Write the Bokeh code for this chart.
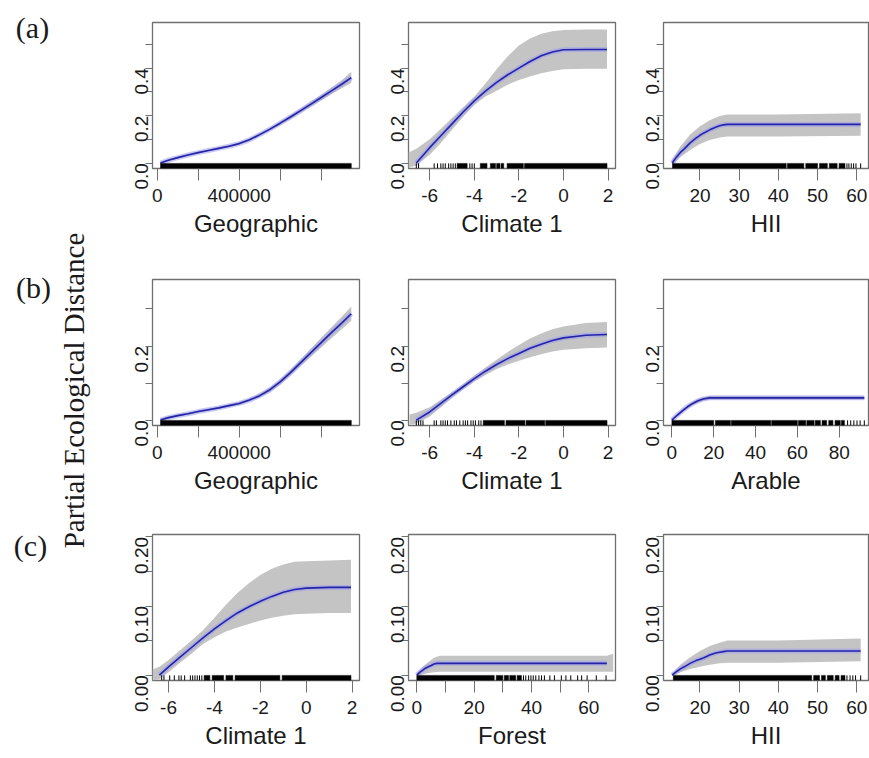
import math
from bokeh.plotting import figure
from bokeh.layouts import row, column
from bokeh.models import Range1d, FixedTicker, PrintfTickFormatter
from bokeh.core.properties import value
from bokeh.embed import file_html
from bokeh.resources import INLINE

# ---------------- data ----------------
# Row (a)
a1_x = [16000, 50000, 100000, 150000, 200000, 250000, 300000, 350000, 400000, 450000, 500000,
        550000, 600000, 650000, 700000, 750000, 800000, 850000, 900000, 947000]
a1_y = [0.000, 0.011, 0.023, 0.034, 0.044, 0.053, 0.062, 0.071, 0.082, 0.098, 0.120,
        0.143, 0.168, 0.194, 0.221, 0.248, 0.276, 0.304, 0.332, 0.360]
a1_hi = [0.004, 0.015, 0.027, 0.038, 0.048, 0.057, 0.066, 0.075, 0.087, 0.103, 0.126,
         0.149, 0.175, 0.202, 0.230, 0.259, 0.288, 0.318, 0.349, 0.385]
a1_lo = [-0.003, 0.007, 0.019, 0.030, 0.040, 0.049, 0.058, 0.067, 0.077, 0.093, 0.114,
         0.137, 0.161, 0.186, 0.212, 0.237, 0.264, 0.290, 0.315, 0.338]
a1_rug_int = [[16000, 947000]]
a1_rug_tick = []

a2_x = [-6.6, -6.0, -5.5, -5.0, -4.5, -4.0, -3.5, -3.0, -2.5, -2.0, -1.5, -1.0, -0.5, 0.0, 1.0, 1.95]
a2_y = [0.000, 0.065, 0.115, 0.165, 0.215, 0.262, 0.303, 0.340, 0.372, 0.400, 0.428, 0.452, 0.468, 0.477, 0.478, 0.478]
a2_bx = [-6.95, -6.6, -6.0, -5.5, -5.0, -4.5, -4.0, -3.5, -3.0, -2.5, -2.0, -1.5, -1.0, -0.5, 0.0, 1.0, 1.95]
a2_hi = [0.045, 0.06, 0.10, 0.145, 0.19, 0.235, 0.28, 0.335, 0.395, 0.45, 0.495, 0.525, 0.545, 0.555, 0.56, 0.563, 0.563]
a2_lo = [-0.02, -0.01, 0.035, 0.085, 0.14, 0.195, 0.245, 0.28, 0.305, 0.33, 0.35, 0.365, 0.378, 0.388, 0.395, 0.397, 0.397]
a2_rug_int = [[-4.77, -4.32], [-3.73, -3.43], [-3.28, -3.05], [-3.0, -2.85], [-2.8, -2.68], [-2.53, -1.8], [-1.75, 1.95]]
a2_rug_tick = [-6.6, -6.5, -5.8, -5.65, -5.5, -5.4, -5.3, -5.15, -5.05, -4.95, -4.85, -4.2, -4.1, -4.0]

a3_x = [12.9, 14, 15, 16, 17.5, 19, 20, 21, 22.5, 24, 25, 26, 27, 40, 61]
a3_y = [0.000, 0.025, 0.045, 0.060, 0.085, 0.105, 0.117, 0.127, 0.140, 0.151, 0.157, 0.161, 0.163, 0.163, 0.163]
a3_bx = [12.9, 15, 17.5, 20, 22.5, 25, 27, 40, 61]
a3_hi = [0.015, 0.07, 0.12, 0.155, 0.18, 0.198, 0.205, 0.205, 0.21]
a3_lo = [-0.01, 0.025, 0.055, 0.08, 0.097, 0.108, 0.112, 0.112, 0.115]
a3_rug_int = [[13.0, 42.0], [42.3, 46.5], [47, 50], [50.5, 52.5], [53, 55], [55.5, 57]]
a3_rug_tick = [57.5, 58, 58.6, 59.2, 59.8, 61]

# Row (b)
b1_x = [16000, 50000, 100000, 150000, 200000, 250000, 300000, 350000, 400000, 450000, 500000,
        550000, 600000, 650000, 700000, 750000, 800000, 850000, 900000, 947000]
b1_y = [0.000, 0.006, 0.012, 0.017, 0.023, 0.028, 0.033, 0.039, 0.045, 0.054, 0.066,
        0.082, 0.103, 0.128, 0.155, 0.182, 0.209, 0.236, 0.262, 0.287]
b1_hi = [0.003, 0.009, 0.015, 0.020, 0.026, 0.031, 0.036, 0.042, 0.049, 0.058, 0.071,
         0.088, 0.110, 0.136, 0.164, 0.193, 0.222, 0.251, 0.279, 0.307]
b1_lo = [-0.002, 0.003, 0.009, 0.014, 0.020, 0.025, 0.030, 0.036, 0.041, 0.050, 0.061,
         0.076, 0.096, 0.120, 0.146, 0.171, 0.196, 0.221, 0.245, 0.268]
b1_rug_int = [[16000, 947000]]
b1_rug_tick = []

b2_x = [-6.6, -6.0, -5.5, -5.0, -4.5, -4.0, -3.5, -3.0, -2.5, -2.0, -1.5, -1.0, -0.5, 0.0, 1.0, 1.95]
b2_y = [0.000, 0.022, 0.045, 0.068, 0.090, 0.112, 0.132, 0.150, 0.166, 0.180, 0.194, 0.205, 0.215, 0.222, 0.229, 0.231]
b2_bx = [-6.9, -6.6, -6.0, -5.5, -5.0, -4.5, -4.0, -3.5, -3.0, -2.5, -2.0, -1.5, -1.0, -0.5, 0.0, 1.0, 1.95]
b2_hi = [0.015, 0.02, 0.035, 0.055, 0.076, 0.097, 0.12, 0.142, 0.163, 0.184, 0.203, 0.22, 0.234, 0.245, 0.253, 0.262, 0.265]
b2_lo = [-0.012, -0.01, 0.01, 0.035, 0.06, 0.083, 0.104, 0.122, 0.138, 0.150, 0.160, 0.170, 0.178, 0.185, 0.190, 0.194, 0.196]
b2_rug_int = [[-3.6, -2.65], [-2.58, -1.73], [-1.68, -0.84], [-0.8, 1.95]]
b2_rug_tick = [-6.6, -6.5, -6.4, -6.3, -5.8, -5.7, -5.5, -5.4, -5.3, -5.2, -5.05, -4.9, -4.8,
               -4.65, -4.5, -4.4, -4.3, -4.15, -4.05, -3.95, -3.8, -3.7]

b3_x = [0, 2.5, 5, 7.5, 10, 12.5, 15, 18, 92]
b3_y = [0.000, 0.013, 0.025, 0.036, 0.045, 0.052, 0.057, 0.060, 0.060]
b3_hi = [0.003, 0.017, 0.030, 0.041, 0.050, 0.057, 0.062, 0.065, 0.065]
b3_lo = [-0.002, 0.009, 0.020, 0.031, 0.040, 0.047, 0.052, 0.055, 0.055]
b3_rug_int = [[0, 20], [20.8, 28], [28.4, 47.3], [47.7, 60], [60.5, 64], [64.5, 68], [68.5, 71],
              [71.8, 74], [75, 77], [78, 80.5], [81, 82.5]]
b3_rug_tick = [84, 85.5, 87, 88.5, 90, 92]

# Row (c)
c1_x = [-6.4, -6.0, -5.5, -5.0, -4.5, -4.0, -3.5, -3.0, -2.5, -2.0, -1.5, -1.0, -0.5, 0.0, 1.0, 1.95]
c1_y = [0.000, 0.012, 0.026, 0.040, 0.054, 0.067, 0.079, 0.090, 0.099, 0.107, 0.114, 0.120, 0.124, 0.126, 0.127, 0.127]
c1_bx = [-6.7, -6.4, -6.0, -5.5, -5.0, -4.5, -4.0, -3.5, -3.0, -2.5, -2.0, -1.5, -1.0, -0.5, 0.0, 1.0, 1.95]
c1_hi = [0.008, 0.012, 0.022, 0.036, 0.050, 0.065, 0.083, 0.102, 0.119, 0.133, 0.145, 0.154, 0.160, 0.164, 0.165, 0.166, 0.167]
c1_lo = [-0.008, -0.006, 0.004, 0.018, 0.031, 0.045, 0.055, 0.063, 0.069, 0.074, 0.079, 0.083, 0.086, 0.088, 0.089, 0.090, 0.090]
c1_rug_int = [[-4.45, -4.2], [-4.1, -3.6], [-3.5, -3.2], [-3.1, -1.15], [-1.05, 1.95]]
c1_rug_tick = [-6.3, -6.2, -5.95, -5.75, -5.55, -5.45, -5.3, -5.05, -4.95, -4.85, -4.75, -4.65, -4.55]

c2_x = [0, 1, 2, 3, 4, 5, 6, 7, 66.3]
c2_y = [0.000, 0.004, 0.007, 0.010, 0.012, 0.014, 0.016, 0.017, 0.017]
c2_bx = [0, 2, 4, 6, 8, 66.3, 68.5]
c2_hi = [0.003, 0.012, 0.019, 0.025, 0.028, 0.028, 0.031]
c2_lo = [-0.002, 0.001, 0.003, 0.004, 0.005, 0.005, 0.005]
c2_rug_int = [[0, 27], [27.7, 30], [30.5, 32], [32.4, 34.5], [35, 36.5]]
c2_rug_tick = [37.2, 38, 39, 39.8, 40.6, 41.5, 42.6, 43.5, 44.5, 46.4, 48, 50.4, 52, 53.7, 56.1, 57.5, 59.4, 62.6, 66]

c3_x = [12.9, 14, 15, 16, 17.5, 19, 20, 21, 22.5, 24, 25, 26, 27, 40, 61]
c3_y = [0.000, 0.005, 0.009, 0.012, 0.017, 0.021, 0.023, 0.025, 0.029, 0.032, 0.033, 0.034, 0.035, 0.035, 0.035]
c3_bx = [12.9, 15, 17.5, 20, 22.5, 25, 27, 40, 61]
c3_hi = [0.002, 0.015, 0.026, 0.035, 0.042, 0.047, 0.050, 0.050, 0.053]
c3_lo = [-0.001, 0.004, 0.009, 0.012, 0.015, 0.017, 0.018, 0.018, 0.020]
c3_rug_int = [[13.2, 48.5], [49, 50.5], [51, 52], [52.5, 54], [54.5, 55.5], [56, 57]]
c3_rug_tick = [57.5, 58.3, 59, 59.7, 61]

# axis ranges, ticks and labels
geo_range = (-23000, 987000)
clim_range_ab = (-6.95, 2.33)
clim_range_c = (-6.7, 2.32)
hii_range = (10.7, 63.0)
arable_range = (-4.0, 94.0)
forest_range = (-2.9, 69.3)
ya_range = (-0.0228, 0.592)
yb_range = (-0.0146, 0.3796)
yc_range = (-0.0078, 0.2036)

geo_ticks, geo_minor = [0, 400000], [200000, 600000, 800000]
clim_ticks = [-6, -4, -2, 0, 2]
hii_ticks = [20, 30, 40, 50, 60]
arable_ticks = [0, 20, 40, 60, 80]
forest_ticks, forest_minor = [0, 20, 40, 60], [10, 30, 50]
ya_ticks, ya_minor = [0.0, 0.2, 0.4], [0.1, 0.3, 0.5]
yb_ticks, yb_minor = [0.0, 0.2], [0.1, 0.3]
yc_ticks, yc_minor = [0.0, 0.1, 0.2], [0.05, 0.15]

panel_labels = ["(a)", "(b)", "(c)"]
y_title = "Partial Ecological Distance"

# ---------------- styling ----------------
BOX = "#707070"
TXT = "#1a1a1a"
SANS = "Liberation Sans"
SERIF = "Liberation Serif"


def panel(x, y, bx, lo, hi, rug_int, rug_tick, xr, yr, xt, xminor, xfmt, yt, yminor, yfmt,
          xlabel, width, height, bl, br, bt, bb):
    p = figure(width=width, height=height, output_backend="svg", toolbar_location=None,
               x_range=Range1d(*xr), y_range=Range1d(*yr),
               min_border_left=bl, min_border_right=br, min_border_top=bt, min_border_bottom=bb)
    p.grid.visible = False
    p.outline_line_color = BOX
    p.outline_line_width = 1.3
    p.background_fill_color = "white"
    p.border_fill_color = "white"

    p.varea(x=bx, y1=lo, y2=hi, fill_color="#c4c4c4")
    p.line(x, y, line_color="#9c9cf0", line_width=5, line_alpha=0.55)
    p.line(x, y, line_color="#2323a8", line_width=1.6)

    ymin = yr[0]
    rh = 0.035 * (yr[1] - yr[0])
    p.quad(left=[r[0] for r in rug_int], right=[r[1] for r in rug_int],
           bottom=[ymin] * len(rug_int), top=[ymin + rh] * len(rug_int),
           fill_color="black", line_color="black", line_width=0.5)
    if rug_tick:
        p.segment(x0=rug_tick, y0=[ymin] * len(rug_tick), x1=rug_tick,
                  y1=[ymin + rh] * len(rug_tick), line_color="black", line_width=1)

    xa = p.xaxis[0]
    xa.ticker = FixedTicker(ticks=xt, minor_ticks=xminor)
    xa.formatter = PrintfTickFormatter(format=xfmt)
    xa.axis_label = xlabel
    xa.axis_label_text_font = SANS
    xa.axis_label_text_font_size = "24px"
    xa.axis_label_text_font_style = "normal"
    xa.axis_label_text_color = TXT
    xa.axis_label_standoff = 5
    xa.major_label_text_font = SANS
    xa.major_label_text_font_size = "19px"
    xa.major_label_text_color = TXT
    xa.major_label_standoff = 8
    xa.major_tick_out = 12
    xa.major_tick_in = 0
    xa.minor_tick_out = 12
    xa.minor_tick_in = 0
    xa.major_tick_line_color = BOX
    xa.minor_tick_line_color = BOX
    xa.axis_line_color = None

    ya = p.yaxis[0]
    ya.ticker = FixedTicker(ticks=yt, minor_ticks=yminor)
    ya.formatter = PrintfTickFormatter(format=yfmt)
    ya.major_label_orientation = math.pi / 2
    ya.major_label_text_font = SANS
    ya.major_label_text_font_size = "19px"
    ya.major_label_text_color = TXT
    ya.major_label_standoff = 4
    ya.major_tick_out = 7
    ya.major_tick_in = 0
    ya.minor_tick_out = 7
    ya.minor_tick_in = 0
    ya.major_tick_line_color = BOX
    ya.minor_tick_line_color = BOX
    ya.axis_line_color = None
    return p


# column geometry: (width, border_left, border_right)
cols = [(255, 44, 4), (255, 45, 3), (251, 45, 1)]
# row geometry: (height, border_top, border_bottom)
rows_g = [(256, 22, 88), (249, 23, 80), (253, 29, 78)]


def mk(r, c, *args):
    w, bl, br = cols[c]
    h, bt, bb = rows_g[r]
    return panel(*args, w, h, bl, br, bt, bb)


pa1 = mk(0, 0, a1_x, a1_y, a1_x, a1_lo, a1_hi, a1_rug_int, a1_rug_tick, geo_range, ya_range,
         geo_ticks, geo_minor, "%d", ya_ticks, ya_minor, "%.1f", "Geographic")
pa2 = mk(0, 1, a2_x, a2_y, a2_bx, a2_lo, a2_hi, a2_rug_int, a2_rug_tick, clim_range_ab, ya_range,
         clim_ticks, [], "%d", ya_ticks, ya_minor, "%.1f", "Climate 1")
pa3 = mk(0, 2, a3_x, a3_y, a3_bx, a3_lo, a3_hi, a3_rug_int, a3_rug_tick, hii_range, ya_range,
         hii_ticks, [], "%d", ya_ticks, ya_minor, "%.1f", "HII")

pb1 = mk(1, 0, b1_x, b1_y, b1_x, b1_lo, b1_hi, b1_rug_int, b1_rug_tick, geo_range, yb_range,
         geo_ticks, geo_minor, "%d", yb_ticks, yb_minor, "%.1f", "Geographic")
pb2 = mk(1, 1, b2_x, b2_y, b2_bx, b2_lo, b2_hi, b2_rug_int, b2_rug_tick, clim_range_ab, yb_range,
         clim_ticks, [], "%d", yb_ticks, yb_minor, "%.1f", "Climate 1")
pb3 = mk(1, 2, b3_x, b3_y, b3_x, b3_lo, b3_hi, b3_rug_int, b3_rug_tick, arable_range, yb_range,
         arable_ticks, [], "%d", yb_ticks, yb_minor, "%.1f", "Arable")

pc1 = mk(2, 0, c1_x, c1_y, c1_bx, c1_lo, c1_hi, c1_rug_int, c1_rug_tick, clim_range_c, yc_range,
         clim_ticks, [], "%d", yc_ticks, yc_minor, "%.2f", "Climate 1")
pc2 = mk(2, 1, c2_x, c2_y, c2_bx, c2_lo, c2_hi, c2_rug_int, c2_rug_tick, forest_range, yc_range,
         forest_ticks, forest_minor, "%d", yc_ticks, yc_minor, "%.2f", "Forest")
pc3 = mk(2, 2, c3_x, c3_y, c3_bx, c3_lo, c3_hi, c3_rug_int, c3_rug_tick, hii_range, yc_range,
         hii_ticks, [], "%d", yc_ticks, yc_minor, "%.2f", "HII")

# left strip with panel letters and the shared y title (pixel-like coordinates)
left = figure(width=108, height=758, output_backend="svg", toolbar_location=None,
              x_range=Range1d(0, 108), y_range=Range1d(758, 0),
              min_border=0, outline_line_color=None)
left.axis.visible = False
left.grid.visible = False
left.text(x=[32, 33, 30], y=[27, 287, 545], text=panel_labels,
          text_font=value(SERIF), text_font_size="30px", text_color=TXT,
          text_align="center", text_baseline="middle")
left.text(x=[73], y=[390], text=[y_title], angle=math.pi / 2,
          text_font=value(SERIF), text_font_size="29px", text_color=TXT,
          text_align="center", text_baseline="middle")

grid = column(row(pa1, pa2, pa3), row(pb1, pb2, pb3), row(pc1, pc2, pc3))
layout = row(left, grid)

open("out.html", "w").write(file_html(layout, INLINE))
